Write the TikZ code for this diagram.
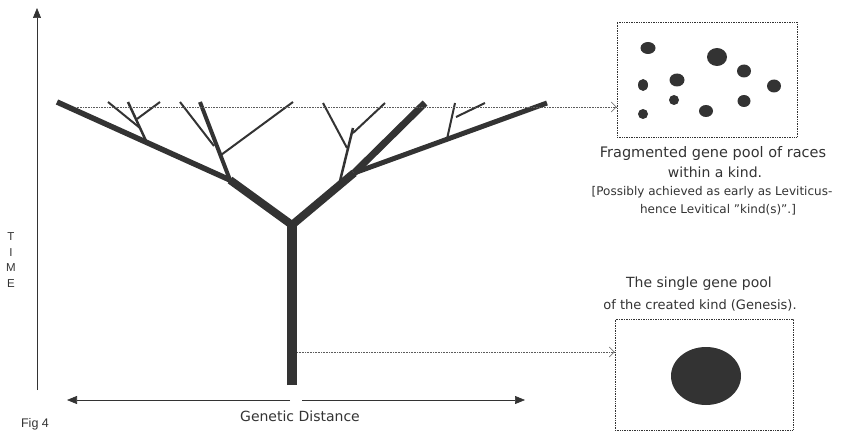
\documentclass[tikz,border=0pt]{standalone}
\usepackage{fontspec}
\setmainfont{DejaVu Sans}
\newfontfamily\axisfont{Liberation Sans}
\usetikzlibrary{arrows.meta, positioning}
\definecolor{treeDark}{HTML}{333333}
\definecolor{inkGray}{HTML}{333333}

\begin{document}
\begin{tikzpicture}[x=1pt, y=-1pt,
    limb/.style={draw=treeDark, line cap=butt},
    twig/.style={draw=treeDark, line width=2pt},
    poolbox/.style={draw=inkGray, densely dotted, line width=0.7pt, inner sep=0pt},
    pooltext/.style={font=\fontsize{14}{16}\selectfont, text=inkGray, inner sep=0pt},
    notetext/.style={font=\fontsize{12}{14}\selectfont, text=inkGray, inner sep=0pt},
    axislabel/.style={font=\axisfont\fontsize{11.5}{15.5}\selectfont, text=inkGray, align=center, inner sep=0pt},
    gene/.style={fill=treeDark},
    guide/.style={draw=inkGray!80, densely dotted, line width=0.6pt,
                  -{Straight Barb[length=5pt, width=10pt]}},
    axis/.style={draw=inkGray, line width=0.7pt, -{Triangle[length=10pt, width=8pt]}},
  ]
    \useasboundingbox (0,0) rectangle (845,441);

    % axes
    \coordinate (origin) at (37,390);
    \coordinate (gapL) at (290,400);
    \coordinate (gapR) at (302,400);
    \draw[axis] (origin) -- (37,8);
    \draw[axis] (gapL) -- (67,400);
    \draw[axis] (gapR) -- (525,400);
    \node[axislabel] (time) at (11,260) {T\\I\\M\\E};
    \node[axislabel, font=\axisfont\fontsize{12.5}{14}\selectfont] (fig) at (35,424) {Fig 4};
    \node[pooltext] (gdist) at (300,416) {Genetic Distance};

    % tree
    \coordinate (root) at (292,385);
    \coordinate (fork) at (292,225);
    \coordinate (lknee) at (230,180);
    \coordinate (rknee) at (354,173);
    \draw[limb, line width=10.5pt] (root) -- (fork);
    \draw[limb, line width=8pt, line join=miter] (lknee) -- (fork) -- (rknee);
    \draw[limb, line width=5.5pt] (lknee) -- (57,102);
    \draw[limb, line width=4pt] (lknee) -- (200,102);
    \draw[limb, line width=7pt] (rknee) -- (425,103);
    \draw[limb, line width=5pt] (rknee) -- (547,103);
    \draw[twig, line width=2.5pt] (147,143) -- (128,102);
    \draw[twig] (108,102) -- (140,128);
    \draw[twig] (160,102) -- (137,119);
    \draw[twig] (180,102) -- (214,146);
    \draw[twig] (221,155) -- (293,102);
    \draw[twig, line width=2.5pt] (339,185) -- (353,128);
    \draw[twig] (323,103) -- (347,148);
    \draw[twig] (353,133) -- (385,103);
    \draw[twig] (447,139) -- (455,103);
    \draw[twig] (456,117) -- (485,103);

    % gene pools
    \node[poolbox, minimum width=180pt, minimum height=115pt] (frag) at (707,79.5) {};
    \node[poolbox, minimum width=178pt, minimum height=111pt] (single) at (704,374.5) {};
    \foreach \cx/\cy/\rx/\ry in {648/48/7.5/6, 717/57/10/9, 744/71/7/6.5, 643/85/5/6,
        677/80/7.5/6.5, 774/86/7/6.5, 674/100/5/5, 744/101/6.5/6, 706/111/7/6, 643/114/5/5}
      \fill[gene] (\cx,\cy) ellipse [x radius=\rx pt, y radius=\ry pt];
    \fill[gene] (706,376) ellipse [x radius=35pt, y radius=29pt];

    \coordinate (horizon) at (75,107);
    \coordinate (stem) at (297,352);
    \draw[guide] (horizon) -- (horizon -| frag.west);
    \draw[guide] (stem) -- (stem -| single.west);

    \node[pooltext, font=\fontsize{14.5}{16}\selectfont] (frag1) at (713,153) {Fragmented gene pool of races};
    \node[pooltext] (frag2) at (715,172) {within a kind.};
    \node[notetext] (frag3) at (712,192) {[Possibly achieved as early as Leviticus-};
    \node[notetext] (frag4) at (718,210) {hence Levitical "kind(s)".]};
    \node[pooltext] (single1) at (699,284) {The single gene pool};
    \node[pooltext, font=\fontsize{13}{16}\selectfont] (single2) at (700,305) {of the created kind (Genesis).};
  \end{tikzpicture}
\end{document}
